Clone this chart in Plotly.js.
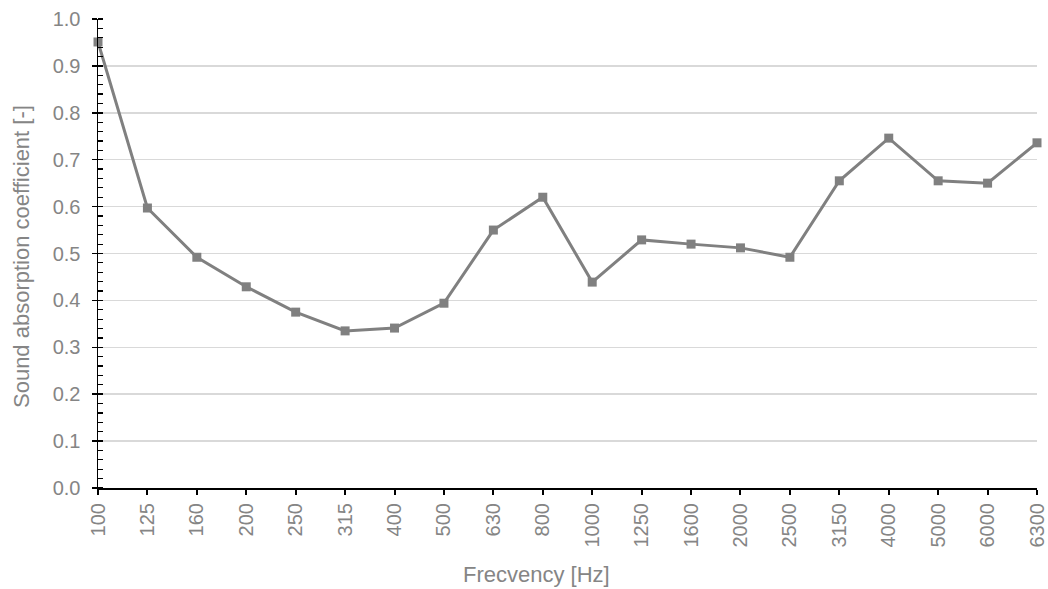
<!DOCTYPE html>
<html><head><meta charset="utf-8">
<script src="https://cdn.plot.ly/plotly-3.0.1.min.js"></script>
<style>html,body{margin:0;padding:0;background:#fff}#c{width:1048px;height:589px}</style>
</head><body><div id="c"></div>
<script>
const frequencies = ["100","125","160","200","250","315","400","500","630","800","1000","1250","1600","2000","2500","3150","4000","5000","6000","6300"];
const absorption = [0.951,0.597,0.492,0.429,0.375,0.335,0.341,0.394,0.550,0.620,0.439,0.529,0.520,0.512,0.492,0.655,0.746,0.655,0.650,0.736];
const yTickVals = [0,0.1,0.2,0.3,0.4,0.5,0.6,0.7,0.8,0.9,1.0];
const yTickText = ["0.0","0.1","0.2","0.3","0.4","0.5","0.6","0.7","0.8","0.9","1.0"];
const xTitle = "Frecvency [Hz]";
const yTitle = "Sound absorption coefficient [-]";

const gray = "#858585";
const font = "Liberation Sans, Arial, sans-serif";

const trace = {
  x: frequencies, y: absorption, type: "scatter", mode: "lines+markers",
  line: {color: "#808080", width: 3},
  marker: {symbol: "square", size: 9, color: "#808080"},
  cliponaxis: false, showlegend: false
};

const layout = {
  width: 1048, height: 589,
  margin: {l: 98, r: 11, t: 19, b: 101},
  paper_bgcolor: "#fff", plot_bgcolor: "#fff",
  font: {family: font, color: gray, size: 20},
  xaxis: {
    type: "category", range: [0, frequencies.length - 1],
    showline: true, linecolor: "#000", linewidth: 2,
    ticks: "outside", ticklen: 5, tickcolor: "#000", tickwidth: 2,
    tickangle: -90, showgrid: false, zeroline: false,
    tickfont: {family: font, size: 20, color: gray}
  },
  yaxis: {
    range: [0, 1], tickvals: yTickVals, ticktext: yTickText,
    showline: true, linecolor: "#000", linewidth: 1.5,
    ticks: "outside", ticklen: 5, tickcolor: "#000", tickwidth: 1.5,
    ticklabelstandoff: 7,
    showgrid: true, gridcolor: "#d9d9d9", gridwidth: 1.5, zeroline: false,
    tickfont: {family: font, size: 20, color: gray},
    minor: {ticks: "inside", dtick: 0.02, tick0: 0, ticklen: 5, tickcolor: "#000", tickwidth: 1.2, showgrid: false}
  },
  yaxis2: {
    overlaying: "y", matches: "y", range: [0, 1], tickvals: yTickVals,
    showticklabels: false, ticks: "inside", ticklen: 5, tickcolor: "#000", tickwidth: 1.5,
    showgrid: false, zeroline: false, showline: false, side: "left"
  },
  annotations: [
    {text: xTitle, xref: "paper", yref: "paper", x: 0.4675, y: -0.1855, xanchor: "center", yanchor: "middle",
     showarrow: false, font: {family: font, size: 22, color: gray}},
    {text: yTitle, xref: "paper", yref: "paper", x: -0.082, y: 0.4925, xanchor: "center", yanchor: "middle",
     textangle: -90, showarrow: false, font: {family: font, size: 22, color: gray}}
  ]
};

const dummy = {x: [frequencies[0]], y: [null], yaxis: "y2", showlegend: false, hoverinfo: "skip", type: "scatter", mode: "markers"};

Plotly.newPlot("c", [dummy, trace], layout, {displayModeBar: false, staticPlot: true});
</script></body></html>
